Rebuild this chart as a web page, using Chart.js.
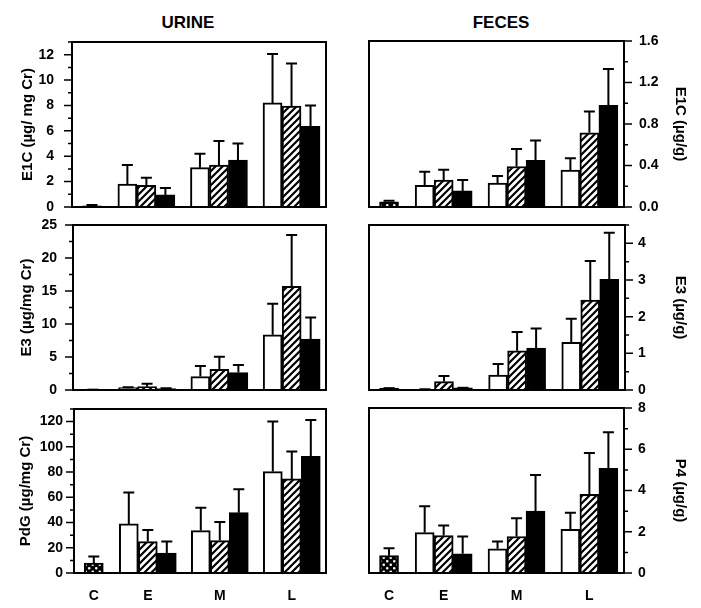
<!DOCTYPE html>
<html>
<head>
<meta charset="utf-8">
<script src="https://cdn.jsdelivr.net/npm/chart.js@4.4.0/dist/chart.umd.min.js"></script>
<style>
	body { margin: 0; background: #fff; }
	#page { position: relative; width: 701px; height: 608px; overflow: hidden; font-family: 'Liberation Sans', Arial, sans-serif; }
	.head { position: absolute; top: 13px; width: 120px; margin-left: -60px; text-align: center; font-size: 17px; font-weight: bold; line-height: 20px; color: #000; }
	canvas { position: absolute; }
</style>
</head>
<body>
<div id="page">
	<div class="head" style="left:188px">URINE</div>
	<div class="head" style="left:501px">FECES</div>
	<canvas id="u1" width="340" height="195" style="left:0;top:25px"></canvas>
	<canvas id="f1" width="361" height="195" style="left:340px;top:25px"></canvas>
	<canvas id="u2" width="340" height="190" style="left:0;top:210px"></canvas>
	<canvas id="f2" width="361" height="190" style="left:340px;top:210px"></canvas>
	<canvas id="u3" width="340" height="213" style="left:0;top:395px"></canvas>
	<canvas id="f3" width="361" height="213" style="left:340px;top:395px"></canvas>
</div>
<script>
	const stages = ['C', 'E', 'M', 'L'];
	const stageX = [1, 4, 8, 12]; // stage position on the x axis (C sits closer to E)

	// urine E1C (µg/mg Cr)
	const uE1C_ctrl  = [0.1, null, null, null];
	const uE1C_open  = [null, 1.8, 3.1, 8.2];
	const uE1C_hatch = [null, 1.7, 3.3, 7.95];
	const uE1C_solid = [null, 0.95, 3.7, 6.35];
	const uE1C_ctrlErr  = [0.05, null, null, null];
	const uE1C_openErr  = [null, 1.5, 1.1, 3.85];
	const uE1C_hatchErr = [null, 0.6, 1.9, 3.35];
	const uE1C_solidErr = [null, 0.55, 1.3, 1.65];

	// feces E1C (µg/g)
	const fE1C_ctrl  = [0.05, null, null, null];
	const fE1C_open  = [null, 0.21, 0.23, 0.355];
	const fE1C_hatch = [null, 0.26, 0.39, 0.715];
	const fE1C_solid = [null, 0.155, 0.45, 0.98];
	const fE1C_ctrlErr  = [0.01, null, null, null];
	const fE1C_openErr  = [null, 0.13, 0.07, 0.115];
	const fE1C_hatchErr = [null, 0.10, 0.17, 0.205];
	const fE1C_solidErr = [null, 0.105, 0.19, 0.35];

	// urine E3 (µg/mg Cr)
	const uE3_ctrl  = [0.05, null, null, null];
	const uE3_open  = [null, 0.35, 2.03, 8.37];
	const uE3_hatch = [null, 0.5, 3.14, 15.7];
	const uE3_solid = [null, 0.2, 2.64, 7.7];
	const uE3_ctrlErr  = [0, null, null, null];
	const uE3_openErr  = [null, 0.05, 1.6, 4.7];
	const uE3_hatchErr = [null, 0.45, 1.9, 7.8];
	const uE3_solidErr = [null, 0.05, 1.15, 3.3];

	// feces E3 (µg/g)
	const fE3_ctrl  = [0.05, null, null, null];
	const fE3_open  = [null, 0.02, 0.41, 1.3];
	const fE3_hatch = [null, 0.23, 1.07, 2.45];
	const fE3_solid = [null, 0.06, 1.14, 3.02];
	const fE3_ctrlErr  = [0, null, null, null];
	const fE3_openErr  = [null, 0, 0.3, 0.64];
	const fE3_hatchErr = [null, 0.15, 0.51, 1.07];
	const fE3_solidErr = [null, 0, 0.54, 1.27];

	// urine PdG (µg/mg Cr)
	const uPdG_ctrl  = [7.9, null, null, null];
	const uPdG_open  = [null, 38.9, 33.6, 80.4];
	const uPdG_hatch = [null, 24.9, 25.7, 74.6];
	const uPdG_solid = [null, 15.8, 47.8, 92.4];
	const uPdG_ctrlErr  = [5.2, null, null, null];
	const uPdG_openErr  = [null, 24.9, 18.1, 39.6];
	const uPdG_hatchErr = [null, 9.2, 14.7, 21.8];
	const uPdG_solidErr = [null, 9.1, 18.6, 28.9];

	// feces P4 (µg/g)
	const fP4_ctrl  = [0.84, null, null, null];
	const fP4_open  = [null, 1.96, 1.17, 2.12];
	const fP4_hatch = [null, 1.82, 1.77, 3.81];
	const fP4_solid = [null, 0.93, 3.0, 5.08];
	const fP4_ctrlErr  = [0.36, null, null, null];
	const fP4_openErr  = [null, 1.28, 0.36, 0.8];
	const fP4_hatchErr = [null, 0.48, 0.88, 2.01];
	const fP4_solidErr = [null, 0.84, 1.75, 1.75];

	Chart.defaults.font.family = "'Liberation Sans', Arial, sans-serif";
	Chart.defaults.font.weight = 'bold';
	Chart.defaults.color = '#000';

	//fill patterns
	function hatchFill() {
		const c = document.createElement('canvas');
		c.width = 7; c.height = 7;
		const g = c.getContext('2d');
		g.fillStyle = '#fff';
		g.fillRect(0, 0, 7, 7);
		g.strokeStyle = '#000';
		g.lineWidth = 2.2;
		g.beginPath();
		g.moveTo(0, 7); g.lineTo(7, 0);
		g.moveTo(-1, 1); g.lineTo(1, -1);
		g.moveTo(6, 8); g.lineTo(8, 6);
		g.stroke();
		return g.createPattern(c, 'repeat');
	}
	function crossFill() {
		// black with white dots
		const c = document.createElement('canvas');
		c.width = 7; c.height = 7;
		const g = c.getContext('2d');
		g.fillStyle = '#000';
		g.fillRect(0, 0, 7, 7);
		g.fillStyle = '#fff';
		g.beginPath();
		g.arc(1.75, 1.75, 1.3, 0, Math.PI * 2);
		g.arc(5.25, 5.25, 1.3, 0, Math.PI * 2);
		g.fill();
		return g.createPattern(c, 'repeat');
	}
	const HATCH = hatchFill();
	const CROSS = crossFill();

	//box, tick marks and error bars
	const frame = {
		id: 'frame',
		afterDatasetsDraw: (chart) => {
			const ctx = chart.ctx;
			const ys = chart.scales.y;
			ctx.save();
			ctx.strokeStyle = '#000';
			ctx.lineWidth = 2;
			chart.data.datasets.forEach((ds, i) => {
				chart.getDatasetMeta(i).data.forEach((bar, j) => {
					const v = ds.data[j].y, e = ds.err[j];
					if (v == null || e == null) return;
					const y0 = ys.getPixelForValue(v);
					const y1 = ys.getPixelForValue(v + e);
					ctx.beginPath();
					ctx.moveTo(bar.x, y0); ctx.lineTo(bar.x, y1);
					ctx.moveTo(bar.x - 5.5, y1); ctx.lineTo(bar.x + 5.5, y1);
					ctx.stroke();
				});
			});
			ctx.restore();
		},
		afterDraw: (chart) => {
			const ctx = chart.ctx;
			const a = chart.chartArea;
			const ys = chart.scales.y;
			const right = ys.position === 'right';
			const x0 = right ? a.right : a.left;
			ctx.save();
			ctx.strokeStyle = '#000';
			ctx.lineWidth = 2;
			ctx.strokeRect(a.left, a.top, a.right - a.left, a.bottom - a.top);
			ctx.lineWidth = 1.5;
			ctx.beginPath();
			ys.ticks.forEach(t => {
				const y = ys.getPixelForValue(t.value);
				const len = t.label !== '' ? 8 : 4;
				ctx.moveTo(x0, y);
				ctx.lineTo(right ? x0 + len : x0 - len, y);
			});
			ctx.stroke();
			ctx.restore();
		}
	};

	function series(vals, errs, fill) {
		return {
			data: stageX.map((x, i) => ({x: x, y: vals[i]})),
			err: errs,
			backgroundColor: fill,
			borderColor: '#000',
			borderWidth: 2,
			barThickness: 19,
			skipNull: true
		};
	}

	function isMajor(v, step) {
		return Math.abs(v / step - Math.round(v / step)) < 1e-6;
	}

	// yAxis: max, minor/major step, decimals, label gap, axis width, title gap
	function drawPanel(id, side, yAxis, title, sets, showX, padTop, padBottom) {
		const left = side === 'left';
		new Chart(document.getElementById(id), {
			type: 'bar',
			data: { datasets: sets },
			options: {
				responsive: false,
				animation: false,
				layout: { padding: { left: left ? 0 : 29, right: left ? 14 : 0, top: padTop, bottom: padBottom } },
				plugins: { legend: { display: false }, tooltip: { enabled: false } },
				scales: {
					x: {
						type: 'linear',
						min: -0.1,
						max: 13.9,
						offset: false,
						display: showX,
						grid: { display: false, drawTicks: false },
						border: { display: false },
						afterBuildTicks: (s) => { s.ticks = stageX.map(v => ({value: v})); },
						afterFit: (s) => {
							s.paddingLeft = 0; s.paddingRight = 0;
							if (showX) s.height = 35;
						},
						ticks: {
							autoSkip: false,
							maxRotation: 0,
							padding: 15,
							font: { size: 14 },
							callback: (v, i) => stages[i]
						}
					},
					y: {
						position: side,
						min: 0,
						max: yAxis.max,
						grid: { display: false, drawTicks: false },
						border: { display: false },
						afterFit: (s) => {
							s.width = yAxis.width;
							s.paddingTop = 0; s.paddingBottom = 0;
						},
						ticks: {
							stepSize: yAxis.minor,
							autoSkip: false,
							padding: yAxis.gap,
							font: { size: 14 },
							callback: (v) => isMajor(v, yAxis.major) ? v.toFixed(yAxis.digits) : ''
						},
						title: {
							display: true,
							text: title,
							font: { size: 15 },
							padding: { top: yAxis.titleGap, bottom: 0 }
						}
					}
				}
			},
			plugins: [frame] //defined above
		});
	}

	drawPanel('u1', 'left', {max: 13, minor: 1, major: 2, digits: 0, gap: 18, width: 72, titleGap: 19}, 'E1C (µg/ mg Cr)', [
		series(uE1C_ctrl, uE1C_ctrlErr, CROSS),
		series(uE1C_open, uE1C_openErr, '#fff'),
		series(uE1C_hatch, uE1C_hatchErr, HATCH),
		series(uE1C_solid, uE1C_solidErr, '#000')
	], false, 17, 13);

	drawPanel('f1', 'right', {max: 1.6, minor: 0.2, major: 0.4, digits: 1, gap: 15, width: 77, titleGap: 12}, 'E1C (µg/g)', [
		series(fE1C_ctrl, fE1C_ctrlErr, CROSS),
		series(fE1C_open, fE1C_openErr, '#fff'),
		series(fE1C_hatch, fE1C_hatchErr, HATCH),
		series(fE1C_solid, fE1C_solidErr, '#000')
	], false, 16, 13);

	drawPanel('u2', 'left', {max: 25, minor: 2.5, major: 5, digits: 0, gap: 16, width: 73, titleGap: 18}, 'E3 (µg/mg Cr)', [
		series(uE3_ctrl, uE3_ctrlErr, CROSS),
		series(uE3_open, uE3_openErr, '#fff'),
		series(uE3_hatch, uE3_hatchErr, HATCH),
		series(uE3_solid, uE3_solidErr, '#000')
	], false, 15, 10);

	drawPanel('f2', 'right', {max: 4.5, minor: 0.5, major: 1, digits: 0, gap: 13, width: 76, titleGap: 12}, 'E3 (µg/g)', [
		series(fE3_ctrl, fE3_ctrlErr, CROSS),
		series(fE3_open, fE3_openErr, '#fff'),
		series(fE3_hatch, fE3_hatchErr, HATCH),
		series(fE3_solid, fE3_solidErr, '#000')
	], false, 15, 10);

	drawPanel('u3', 'left', {max: 130, minor: 10, major: 20, digits: 0, gap: 11, width: 74, titleGap: 17}, 'PdG (µg/mg Cr)', [
		series(uPdG_ctrl, uPdG_ctrlErr, CROSS),
		series(uPdG_open, uPdG_openErr, '#fff'),
		series(uPdG_hatch, uPdG_hatchErr, HATCH),
		series(uPdG_solid, uPdG_solidErr, '#000')
	], true, 14, 0);

	drawPanel('f3', 'right', {max: 8, minor: 1, major: 2, digits: 0, gap: 14, width: 77, titleGap: 12}, 'P4 (µg/g)', [
		series(fP4_ctrl, fP4_ctrlErr, CROSS),
		series(fP4_open, fP4_openErr, '#fff'),
		series(fP4_hatch, fP4_hatchErr, HATCH),
		series(fP4_solid, fP4_solidErr, '#000')
	], true, 13, 0);
</script>
</body>
</html>
